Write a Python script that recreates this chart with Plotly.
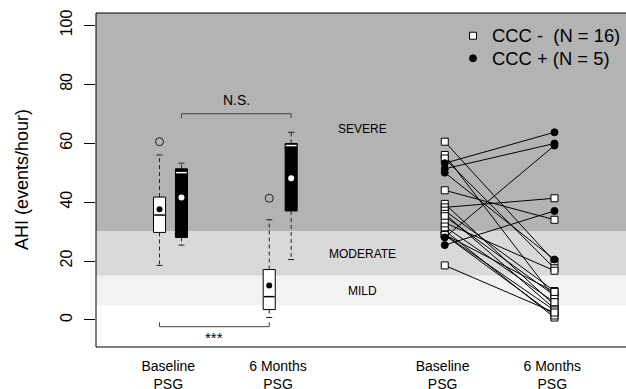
import plotly.graph_objects as go

# ---------------- data ----------------
tick_labels = ["Baseline<br>PSG", "6 Months<br>PSG", "Baseline<br>PSG", "6 Months<br>PSG"]
y_ticks = [0, 20, 40, 60, 80, 100]

# paired AHI values (events/hour), same subject order in baseline and 6-month lists
ccc_neg_base = [60.5, 56.0, 54.8, 44.0, 39.4, 38.2, 37.1, 36.0, 35.2, 33.0, 31.7, 30.4, 29.0, 29.0, 28.8, 18.5]
ccc_neg_6m = [19.8, 7.5, 17.5, 34.0, 5.0, 41.3, 9.8, 3.8, 8.3, 16.7, 6.0, 0.8, 9.5, 3.2, 1.5, 2.5]
ccc_pos_base = [53.2, 51.3, 50.0, 28.0, 25.4]
ccc_pos_6m = [63.7, 59.9, 20.5, 59.2, 37.0]

legend_names = ["CCC -  (N = 16)", "CCC + (N = 5)"]

severity_names = ["SEVERE", "MODERATE", "MILD"]
severity_bounds = [(30, 104.2), (15, 30), (5, 15)]
severity_label_y = [64.8, 22.4, 9.8]

# ---------------- layout constants ----------------
FONT = "Liberation Sans, Arial, Helvetica, sans-serif"
label_pos = [1.0, 2.0, 3.5, 4.5]
box_pos = [0.92, 1.12, 1.92, 2.12]
pair_x = [3.52, 4.52]
band_colors = ["#b3b3b3", "#d9d9d9", "#f2f2f2"]
X_RANGE = [0.341, 5.172]
Y_RANGE = [-9.2, 104.2]
HALF = 0.055


def fivenum(v):
    s = sorted(v)
    n = len(s)
    n4 = int((n + 3) // 2) / 2.0
    idx = [1, n4, (n + 1) / 2.0, n + 1 - n4, n]
    out = []
    for d in idx:
        lo = int(d) - 1
        hi = int(-(-d // 1)) - 1
        out.append(0.5 * (s[lo] + s[hi]))
    return out


def box_stats(v):
    mn, q1, med, q3, mx = fivenum(v)
    iqr = q3 - q1
    lo_f, hi_f = q1 - 1.5 * iqr, q3 + 1.5 * iqr
    inside = [x for x in v if lo_f <= x <= hi_f]
    outl = [x for x in v if x < lo_f or x > hi_f]
    return dict(q1=q1, med=med, q3=q3, lo=min(inside), hi=max(inside),
                out=outl, mean=sum(v) / len(v))


fig = go.Figure()

boxes = [
    (ccc_neg_base, box_pos[0], "white", "black"),
    (ccc_pos_base, box_pos[1], "black", "white"),
    (ccc_neg_6m, box_pos[2], "white", "black"),
    (ccc_pos_6m, box_pos[3], "black", "white"),
]
for vals, p, fill, inner in boxes:
    st = box_stats(vals)
    fig.add_trace(go.Scatter(
        x=[p, p, None, p, p], y=[st["q3"], st["hi"], None, st["q1"], st["lo"]],
        mode="lines", line=dict(color="#222", width=1, dash="4px,3px"),
        showlegend=False, hoverinfo="skip"))
    fig.add_trace(go.Scatter(
        x=[p - HALF / 2, p + HALF / 2, None, p - HALF / 2, p + HALF / 2],
        y=[st["hi"], st["hi"], None, st["lo"], st["lo"]],
        mode="lines", line=dict(color="#222", width=1),
        showlegend=False, hoverinfo="skip"))
    fig.add_trace(go.Scatter(
        x=[p - HALF, p + HALF, p + HALF, p - HALF, p - HALF],
        y=[st["q1"], st["q1"], st["q3"], st["q3"], st["q1"]],
        mode="lines", fill="toself", fillcolor=fill,
        line=dict(color="black", width=1), showlegend=False, hoverinfo="skip"))
    fig.add_trace(go.Scatter(
        x=[p - HALF + 0.006, p + HALF - 0.006], y=[st["med"], st["med"]],
        mode="lines", line=dict(color=inner, width=1.5),
        showlegend=False, hoverinfo="skip"))
    fig.add_trace(go.Scatter(
        x=[p], y=[st["mean"]], mode="markers",
        marker=dict(color=inner, size=6, line=dict(width=0)),
        showlegend=False, hoverinfo="skip"))
    if st["out"]:
        fig.add_trace(go.Scatter(
            x=[p] * len(st["out"]), y=st["out"], mode="markers",
            marker=dict(symbol="circle-open", color="#222", size=8, line=dict(width=1)),
            showlegend=False, hoverinfo="skip"))


def pair_trace(base, six, symbol, fill):
    xs, ys = [], []
    for b, s in zip(base, six):
        xs += [pair_x[0], pair_x[1], None]
        ys += [b, s, None]
    fig.add_trace(go.Scatter(
        x=xs, y=ys, mode="lines+markers",
        line=dict(color="black", width=1),
        marker=dict(symbol=symbol, size=7, color=fill, line=dict(color="black", width=1)),
        showlegend=False, hoverinfo="skip"))


pair_trace(ccc_neg_base, ccc_neg_6m, "square", "white")
pair_trace(ccc_pos_base, ccc_pos_6m, "circle", "black")

# significance brackets
fig.add_trace(go.Scatter(
    x=[box_pos[1], box_pos[1], box_pos[3], box_pos[3]], y=[68.5, 70, 70, 68.5],
    mode="lines", line=dict(color="#444", width=1), showlegend=False, hoverinfo="skip"))
fig.add_trace(go.Scatter(
    x=[box_pos[0], box_pos[0], box_pos[2], box_pos[2]], y=[-0.8, -2.3, -2.3, -0.8],
    mode="lines", line=dict(color="#444", width=1), showlegend=False, hoverinfo="skip"))

shapes = []
for (y0, y1), c in zip(severity_bounds, band_colors):
    shapes.append(dict(type="rect", xref="paper", yref="y", x0=0, x1=1, y0=y0, y1=y1,
                       fillcolor=c, line=dict(width=0), layer="below"))
for (x0, y0, x1, y1) in [(0, 0, 0, 1), (0, 1, 1, 1), (0, 0, 1, 0)]:
    shapes.append(dict(type="line", xref="paper", yref="paper", x0=x0, y0=y0, x1=x1, y1=y1,
                       line=dict(color="black", width=1)))

# legend keys (drawn as pixel-sized shapes)
LEG_X, LEG_Y = 0.7113, [0.932, 0.8644]
shapes.append(dict(type="rect", xref="paper", yref="paper", xsizemode="pixel", ysizemode="pixel",
                   xanchor=LEG_X, yanchor=LEG_Y[0], x0=-3.5, x1=3.5, y0=-3.5, y1=3.5,
                   fillcolor="white", line=dict(color="black", width=1)))
shapes.append(dict(type="circle", xref="paper", yref="paper", xsizemode="pixel", ysizemode="pixel",
                   xanchor=LEG_X, yanchor=LEG_Y[1], x0=-3.5, x1=3.5, y0=-3.5, y1=3.5,
                   fillcolor="black", line=dict(color="black", width=1)))

annotations = []
for name, ly in zip(legend_names, LEG_Y):
    annotations.append(dict(x=0.7453, y=ly, xref="paper", yref="paper", text=name,
                            xanchor="left", yanchor="middle", showarrow=False, borderpad=0,
                            font=dict(size=18.4, color="black", family=FONT)))
for name, yv in zip(severity_names, severity_label_y):
    annotations.append(dict(x=2.766, y=yv, xref="x", yref="y", text=name, showarrow=False,
                            xanchor="center", font=dict(size=12, color="black", family=FONT)))
annotations.append(dict(x=(box_pos[1] + box_pos[3]) / 2, y=74.6, xref="x", yref="y", text="N.S.",
                        xanchor="center", showarrow=False,
                        font=dict(size=14, color="black", family=FONT)))
annotations.append(dict(x=(box_pos[0] + box_pos[2]) / 2, y=-6.0, xref="x", yref="y", text="***",
                        xanchor="center", showarrow=False,
                        font=dict(size=15, color="black", family=FONT)))
annotations.append(dict(x=-0.1396, y=0.5, xref="paper", yref="paper", text="AHI (events/hour)",
                        textangle=-90, xanchor="center", yanchor="middle", showarrow=False,
                        font=dict(size=18, color="black", family=FONT)))

fig.update_layout(
    width=626, height=389,
    margin=dict(l=96, r=0, t=13, b=42, autoexpand=False),
    paper_bgcolor="white", plot_bgcolor="white",
    font=dict(family=FONT, color="black"),
    shapes=shapes, annotations=annotations,
    showlegend=False,
    xaxis=dict(range=X_RANGE, tickvals=label_pos, ticktext=tick_labels, showgrid=False,
               zeroline=False, showline=False, ticks="", tickfont=dict(size=14, family=FONT),
               ticklabelstandoff=9),
    yaxis=dict(range=Y_RANGE, tickvals=y_ticks, showgrid=False, zeroline=False,
               showline=False, ticks="outside", ticklen=11, tickcolor="black",
               tickangle=-90, tickfont=dict(size=16, family=FONT), ticklabelstandoff=6),
)

fig.write_html("out.html", config={"displayModeBar": False},
               post_script="document.body.style.margin='0px';")
